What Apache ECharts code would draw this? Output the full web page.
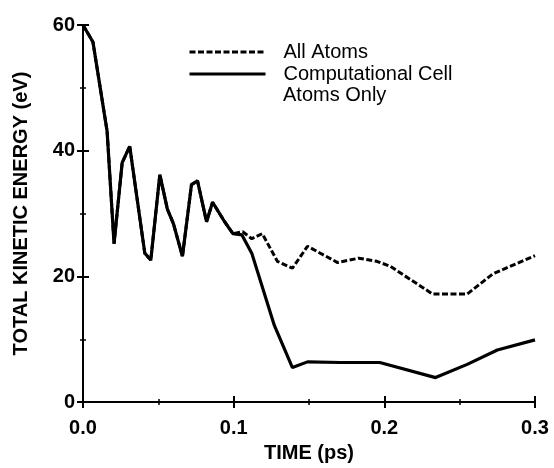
<!DOCTYPE html>
<html>
<head>
<meta charset="utf-8">
<script src="https://cdn.jsdelivr.net/npm/echarts@6/dist/echarts.min.js"></script>
<style>
  html, body { margin: 0; padding: 0; background: #fff; }
  #chart { width: 554px; height: 468px; }
</style>
</head>
<body>
<div id="chart"></div>
<script>
// time (ps) / energy (eV)
var timeCell = [0, 0.0066, 0.016, 0.0206, 0.026, 0.031, 0.041, 0.045, 0.051, 0.056, 0.060, 0.066, 0.072, 0.076, 0.082, 0.086, 0.094, 0.0995, 0.1055, 0.112, 0.127, 0.139, 0.149, 0.171, 0.197, 0.234, 0.255, 0.275, 0.300];
var energyCell = [60, 57.3, 43.1, 25.2, 38.1, 40.7, 23.7, 22.6, 36.2, 30.7, 28.4, 23.2, 34.6, 35.2, 28.7, 31.8, 28.7, 26.8, 26.6, 23.7, 12.2, 5.5, 6.4, 6.3, 6.3, 3.9, 6.0, 8.3, 9.9];

var timeAll = [0, 0.0066, 0.016, 0.0206, 0.026, 0.031, 0.041, 0.045, 0.051, 0.056, 0.060, 0.066, 0.072, 0.076, 0.082, 0.086, 0.094, 0.0995, 0.106, 0.112, 0.119, 0.129, 0.139, 0.149, 0.169, 0.183, 0.195, 0.204, 0.232, 0.255, 0.272, 0.300];
var energyAll = [60, 57.3, 43.1, 25.2, 38.1, 40.7, 23.7, 22.6, 36.2, 30.7, 28.4, 23.2, 34.6, 35.2, 28.7, 31.8, 28.7, 26.8, 27.1, 26.0, 26.8, 22.4, 21.3, 24.8, 22.2, 22.9, 22.4, 21.6, 17.2, 17.2, 20.4, 23.3];

var seriesNames = ['All Atoms', 'Computational Cell'];

function pairs(xs, ys) {
  return xs.map(function (x, i) { return [x, ys[i]]; });
}

var font = 'Liberation Sans, Arial, sans-serif';
var axisLine = { lineStyle: { color: '#000', width: 2 } };
var tickStyle = { show: true, inside: true, length: 6, lineStyle: { color: '#000', width: 2 } };
var minorStyle = { show: true, splitNumber: 2, length: 3, lineStyle: { color: '#000', width: 1.5 } };
var labelStyle = { color: '#000', fontSize: 20, fontWeight: 'bold', fontFamily: font };

var chart = echarts.init(document.getElementById('chart'), null, { renderer: 'canvas' });
var option = {
  animation: false,
  backgroundColor: '#fff',
  grid: { left: 83, right: 19, top: 25, bottom: 59 },
  legend: {
    orient: 'vertical',
    left: 183,
    top: 36,
    itemWidth: 76,
    itemHeight: 14,
    itemGap: 0,
    data: seriesNames,
    itemStyle: { opacity: 0 },
    lineStyle: { width: 3 },
    textStyle: { color: '#000', fontSize: 20, lineHeight: 22, fontFamily: font, padding: [0, 0, 0, 13] }
  },
  graphic: [{
    type: 'text',
    left: 283,
    top: 85,
    style: { text: 'Atoms Only', fill: '#000', fontSize: 20, fontFamily: font }
  }],
  xAxis: [{
    type: 'value', min: 0, max: 0.3, interval: 0.1,
    name: 'TIME (ps)', nameLocation: 'middle', nameGap: 39,
    nameTextStyle: labelStyle,
    axisLine: axisLine, axisTick: tickStyle, minorTick: minorStyle,
    splitLine: { show: false },
    axisLabel: Object.assign({ margin: 16, formatter: function (v) { return v.toFixed(1); } }, labelStyle)
  }, {
    type: 'value', position: 'top', min: 0, max: 0.3, interval: 0.1,
    axisLine: axisLine, axisTick: tickStyle, minorTick: minorStyle,
    splitLine: { show: false }, axisLabel: { show: false }
  }],
  yAxis: [{
    type: 'value', min: 0, max: 60, interval: 20,
    name: 'TOTAL KINETIC ENERGY (eV)', nameLocation: 'middle', nameGap: 52,
    nameTextStyle: labelStyle,
    axisLine: axisLine, axisTick: tickStyle, minorTick: minorStyle,
    splitLine: { show: false },
    axisLabel: Object.assign({ margin: 8 }, labelStyle)
  }, {
    type: 'value', position: 'right', min: 0, max: 60, interval: 20,
    axisLine: axisLine, axisTick: tickStyle, minorTick: minorStyle,
    splitLine: { show: false }, axisLabel: { show: false }
  }],
  series: [{
    name: seriesNames[0],
    type: 'line',
    symbol: 'none',
    data: pairs(timeAll, energyAll),
    lineStyle: { color: '#000', width: 3, type: [6, 2.5] },
    itemStyle: { color: '#000' },
    z: 3
  }, {
    name: seriesNames[1],
    type: 'line',
    symbol: 'none',
    data: pairs(timeCell, energyCell),
    lineStyle: { color: '#000', width: 3.2 },
    itemStyle: { color: '#000' },
    z: 2
  }]
};
chart.setOption(option);
</script>
</body>
</html>
